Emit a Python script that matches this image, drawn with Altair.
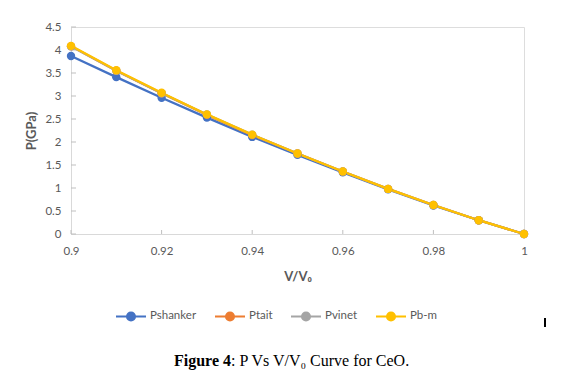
import altair as alt
import pandas as pd

v_ratio = [0.90, 0.91, 0.92, 0.93, 0.94, 0.95, 0.96, 0.97, 0.98, 0.99, 1.00]
p_shanker = [3.87, 3.41, 2.96, 2.53, 2.11, 1.72, 1.34, 0.97, 0.62, 0.30, 0.0]
p_tait = [4.08, 3.55, 3.06, 2.59, 2.15, 1.75, 1.36, 0.98, 0.63, 0.30, 0.0]
p_vinet = [4.08, 3.55, 3.06, 2.60, 2.16, 1.75, 1.36, 0.98, 0.63, 0.30, 0.0]
p_bm = [4.09, 3.56, 3.07, 2.60, 2.16, 1.75, 1.36, 0.98, 0.63, 0.30, 0.0]

series = ["Pshanker", "Ptait", "Pvinet", "Pb-m"]
colors = ["#4472C4", "#ED7D31", "#A5A5A5", "#FFC000"]
y_ticks = [0, 0.5, 1, 1.5, 2, 2.5, 3, 3.5, 4, 4.5]
x_ticks = [0.9, 0.92, 0.94, 0.96, 0.98, 1.0]

rows = []
for name, vals in zip(series, [p_shanker, p_tait, p_vinet, p_bm]):
    for order, (v, p) in enumerate(zip(v_ratio, vals)):
        rows.append({"series": name, "V": v, "P": p, "order": order})
df = pd.DataFrame(rows)

LABEL_FONT = "Lato"
GREY = "#595959"
AXIS_GREY = "#D9D9D9"

legend_path = "M-1,0H1M0.27,0A0.27,0.27 0 1,1 -0.27,0A0.27,0.27 0 1,1 0.27,0Z"

xscale = alt.Scale(domain=[0.9, 1.0], nice=False, zero=False)
yscale = alt.Scale(domain=[0, 4.5], nice=False)

x_axis = alt.Axis(
    values=x_ticks,
    format="~g",
    grid=False,
    ticks=False,
    domainColor=AXIS_GREY,
    labelFont=LABEL_FONT,
    labelFontSize=11.5,
    labelColor=GREY,
    labelPadding=11,
    labelFlush=False,
    labelOverlap=False,
    titleFont=LABEL_FONT,
    titleFontSize=13,
    titleFontWeight="bold",
    titleColor=GREY,
    titlePadding=14,
)
y_axis = alt.Axis(
    values=y_ticks,
    format="~g",
    grid=False,
    ticks=False,
    domainColor=AXIS_GREY,
    labelFont=LABEL_FONT,
    labelFontSize=11.5,
    labelColor=GREY,
    labelPadding=10,
    labelFlush=False,
    labelOverlap=False,
    titleFont=LABEL_FONT,
    titleFontSize=13,
    titleFontWeight="bold",
    titleColor=GREY,
    titlePadding=6,
)

color = alt.Color(
    "series:N",
    scale=alt.Scale(domain=series, range=colors),
    sort=series,
    legend=alt.Legend(
        title=None,
        orient="none",
        direction="horizontal",
        legendX=44,
        legendY=273,
        symbolType=legend_path,
        symbolSize=900,
        symbolStrokeWidth=2,
        labelFont=LABEL_FONT,
        labelFontSize=11.5,
        labelColor=GREY,
        labelOffset=3,
        columnPadding=14,
    ),
)

base = alt.Chart(df)
lines = base.mark_line(strokeWidth=2.25).encode(
    x=alt.X("V:Q", title="V/V₀", scale=xscale, axis=x_axis),
    y=alt.Y("P:Q", title="P(GPa)", scale=yscale, axis=y_axis),
    color=color,
    order="order:Q",
    detail="series:N",
)
points = base.mark_circle(size=70, opacity=1).encode(
    x=alt.X("V:Q", title="V/V₀", scale=xscale, axis=x_axis),
    y=alt.Y("P:Q", title="P(GPa)", scale=yscale, axis=y_axis),
    color=alt.Color("series:N", scale=alt.Scale(domain=series, range=colors), legend=None),
)

yt = alt.Chart(pd.DataFrame({"t": y_ticks})).mark_rule(color="#BFBFBF", strokeWidth=1).encode(
    y=alt.Y("t:Q", title="P(GPa)", scale=yscale, axis=y_axis), x=alt.value(0), x2=alt.value(5)
)
xt = alt.Chart(pd.DataFrame({"t": x_ticks})).mark_rule(color="#BFBFBF", strokeWidth=1).encode(
    x=alt.X("t:Q", title="V/V₀", scale=xscale, axis=x_axis), y=alt.value(207), y2=alt.value(203)
)

cap_bold = alt.Chart(pd.DataFrame({"t": ["Figure 4"]})).mark_text(
    font="Liberation Serif", fontSize=16, fontWeight="bold", align="right", baseline="middle", color="black"
).encode(x=alt.value(160), y=alt.value(334), text="t:N")
cap_rest = alt.Chart(pd.DataFrame({"t": [": P Vs V/V₀ Curve for CeO."]})).mark_text(
    font="Liberation Serif", fontSize=16, align="left", baseline="middle", color="black"
).encode(x=alt.value(160), y=alt.value(334), text="t:N")
cursor = alt.Chart(pd.DataFrame({"a": [0]})).mark_rule(color="black", strokeWidth=2).encode(
    x=alt.value(474), y=alt.value(291), y2=alt.value(300)
)

chart = (
    alt.layer(yt, xt, lines, points, cap_bold, cap_rest, cursor)
    .properties(
        width=453,
        height=207,
        autosize=alt.AutoSizeParams(type="none"),
        padding={"left": 63, "top": 19, "right": 49, "bottom": 140},
    )
    .configure_view(stroke=None)
    .configure(background="white")
)

chart.save("out.html", embed_options={"renderer": "svg", "actions": False})
